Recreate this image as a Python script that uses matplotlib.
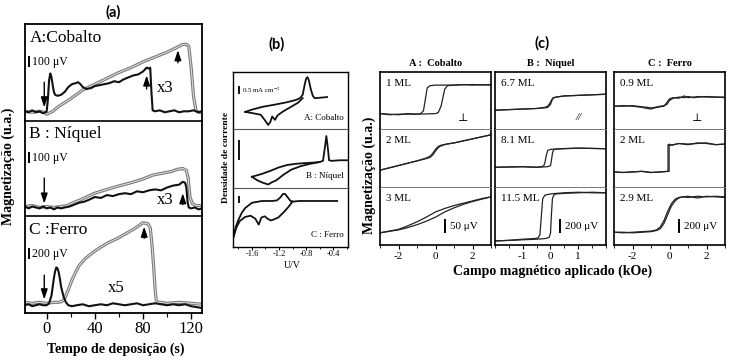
import matplotlib
matplotlib.use("Agg")
import matplotlib.pyplot as plt
from matplotlib.ticker import MultipleLocator

W, H = 731, 361
plt.rcParams['font.family'] = ['Liberation Serif', 'DejaVu Serif']
plt.rcParams['mathtext.fontset'] = 'stix'
plt.rcParams['axes.unicode_minus'] = False

# ---------------- (a) magnetization vs deposition time ----------------
co_gray_t = [-18, -12, -6, -2, 0, 2, 5, 10, 15, 20, 30, 40, 50, 60, 70, 80, 90, 100, 105, 110, 113, 116, 118, 120, 122, 124, 126, 129]
co_gray_y = [0.10, 0.09, 0.10, 0.09, 0.07, 0.08, 0.10, 0.15, 0.19, 0.23, 0.32, 0.38, 0.44, 0.50, 0.55, 0.61, 0.66, 0.71, 0.74, 0.77, 0.79, 0.79, 0.77, 0.55, 0.25, 0.11, 0.09, 0.09]
co_black_t = [-18, -15, -12, -9, -6, -3, -1, 0, 1, 2, 3, 4, 5, 6, 7, 9, 12, 15, 18, 21, 24, 26, 28, 30, 33, 37, 40, 44, 48, 52, 56, 60, 64, 68, 72, 76, 80, 83, 85, 86, 87, 88, 90, 94, 98, 102, 106, 110, 114, 118, 122, 126, 129]
co_black_y = [0.10, 0.09, 0.11, 0.09, 0.10, 0.08, 0.09, 0.10, 0.22, 0.42, 0.49, 0.45, 0.37, 0.30, 0.27, 0.26, 0.27, 0.30, 0.35, 0.38, 0.39, 0.40, 0.38, 0.35, 0.33, 0.34, 0.36, 0.37, 0.38, 0.39, 0.41, 0.40, 0.43, 0.45, 0.47, 0.48, 0.51, 0.55, 0.54, 0.55, 0.30, 0.11, 0.10, 0.11, 0.09, 0.10, 0.11, 0.09, 0.10, 0.10, 0.11, 0.09, 0.10]
co_arrows = [(-2, 0.40, 0.14), (83, 0.33, 0.47), (109, 0.60, 0.73)]

ni_gray_t = [-18, -12, -6, 0, 6, 12, 17, 22, 28, 33, 40, 50, 61, 70, 80, 88, 96, 104, 108, 113, 116, 117.5, 119, 121, 124, 129]
ni_gray_y = [0.10, 0.11, 0.09, 0.10, 0.09, 0.10, 0.11, 0.14, 0.17, 0.20, 0.24, 0.28, 0.32, 0.35, 0.39, 0.43, 0.45, 0.47, 0.49, 0.50, 0.48, 0.40, 0.20, 0.13, 0.11, 0.11]
ni_black_t = [-18, -15, -12, -9, -6, -3, 0, 3, 6, 9, 12, 15, 19, 23, 27, 31, 35, 40, 45, 50, 55, 60, 65, 70, 75, 80, 85, 90, 95, 100, 105, 110, 113, 115, 116, 117, 118, 120, 123, 126, 129]
ni_black_y = [0.10, 0.08, 0.10, 0.09, 0.08, 0.10, 0.08, 0.09, 0.07, 0.09, 0.08, 0.09, 0.10, 0.12, 0.14, 0.15, 0.17, 0.20, 0.19, 0.22, 0.21, 0.23, 0.24, 0.23, 0.26, 0.25, 0.27, 0.28, 0.27, 0.30, 0.32, 0.33, 0.36, 0.35, 0.30, 0.15, 0.09, 0.08, 0.09, 0.07, 0.08]
ni_arrows = [(-2, 0.40, 0.13), (113, 0.12, 0.24)]

fe_gray_t = [-18, -12, -6, 0, 6, 10, 13, 15, 18, 21, 24, 27, 32, 39, 45, 52, 59, 66, 73, 80, 84, 86, 87.5, 89, 90, 91, 92, 95, 100, 110, 120, 129]
fe_gray_y = [0.11, 0.10, 0.11, 0.10, 0.11, 0.11, 0.12, 0.15, 0.24, 0.34, 0.42, 0.49, 0.56, 0.63, 0.68, 0.73, 0.77, 0.82, 0.87, 0.93, 0.92, 0.88, 0.70, 0.45, 0.25, 0.13, 0.11, 0.11, 0.10, 0.11, 0.10, 0.09]
fe_black_t = [-18, -15, -12, -9, -6, -3, 0, 2, 4, 5, 6, 7, 8, 9, 10, 11, 12, 14, 16, 18, 21, 25, 30, 35, 40, 45, 50, 55, 60, 65, 70, 75, 80, 85, 90, 95, 100, 105, 110, 115, 120, 125, 129]
fe_black_y = [0.08, 0.09, 0.07, 0.08, 0.09, 0.08, 0.08, 0.10, 0.18, 0.27, 0.36, 0.43, 0.47, 0.46, 0.42, 0.35, 0.27, 0.17, 0.11, 0.08, 0.07, 0.08, 0.09, 0.07, 0.08, 0.09, 0.08, 0.10, 0.09, 0.08, 0.09, 0.10, 0.08, 0.09, 0.10, 0.09, 0.08, 0.09, 0.08, 0.09, 0.07, 0.06, 0.05]
fe_arrows = [(-2, 0.39, 0.14), (81, 0.77, 0.89)]

a_ticks = [0, 40, 80, 120]

# ---------------- (b) cyclic voltammograms ----------------
cv_co_up_v = [-1.70, -1.60, -1.44, -1.25, -1.08, -0.95, -0.89, -0.85, -0.82, -0.80, -0.78, -0.76, -0.73, -0.70, -0.67, -0.58, -0.49]
cv_co_up_j = [0.30, 0.34, 0.39, 0.43, 0.47, 0.51, 0.54, 0.60, 0.78, 0.88, 0.91, 0.86, 0.70, 0.58, 0.54, 0.55, 0.56]
cv_co_lo_v = [-1.70, -1.60, -1.47, -1.40, -1.36, -1.33, -1.30, -1.26, -1.22, -1.15, -1.05, -0.92, -0.85]
cv_co_lo_j = [0.30, 0.28, 0.25, 0.14, 0.07, 0.12, 0.22, 0.16, 0.24, 0.30, 0.37, 0.46, 0.54]

cv_ni_up_v = [-1.60, -1.45, -1.33, -1.20, -1.08, -0.95, -0.84, -0.70, -0.60, -0.55, -0.52, -0.50, -0.48, -0.46, -0.42, -0.30, -0.18]
cv_ni_up_j = [0.19, 0.24, 0.29, 0.35, 0.39, 0.41, 0.42, 0.43, 0.44, 0.46, 0.70, 0.88, 0.70, 0.47, 0.46, 0.47, 0.47]
cv_ni_lo_v = [-1.60, -1.52, -1.44, -1.36, -1.30, -1.24, -1.14, -1.02, -0.88, -0.74, -0.60]
cv_ni_lo_j = [0.19, 0.13, 0.09, 0.06, 0.10, 0.13, 0.22, 0.31, 0.37, 0.41, 0.44]

cv_fe_up_v = [-1.87, -1.84, -1.80, -1.75, -1.70, -1.60, -1.45, -1.30, -1.23, -1.18, -1.14, -1.11, -1.07, -1.03, -0.99, -0.90, -0.70, -0.50, -0.34]
cv_fe_up_j = [0.18, 0.34, 0.46, 0.58, 0.66, 0.75, 0.78, 0.78, 0.79, 0.84, 0.90, 0.90, 0.84, 0.78, 0.77, 0.78, 0.78, 0.78, 0.78]
cv_fe_lo_v = [-1.87, -1.83, -1.78, -1.70, -1.62, -1.55, -1.50, -1.46, -1.41, -1.37, -1.32, -1.27, -1.21, -1.13, -1.06, -1.00]
cv_fe_lo_j = [0.18, 0.33, 0.44, 0.51, 0.53, 0.48, 0.38, 0.50, 0.52, 0.48, 0.45, 0.47, 0.50, 0.59, 0.68, 0.77]

b_ticks = [-1.6, -1.2, -0.8, -0.4]

# ---------------- (c) hysteresis loops ----------------
co1_dn_h = [3, 2, 1, 0, -0.3, -0.45, -0.55, -0.65, -0.8, -1, -1.5, -2, -2.5, -3]
co1_dn_m = [0.77, 0.78, 0.77, 0.77, 0.76, 0.72, 0.52, 0.32, 0.27, 0.26, 0.27, 0.25, 0.26, 0.27]
co1_up_h = [-3, -2.5, -2, -1, 0, 0.15, 0.3, 0.4, 0.5, 0.65, 1, 1.5, 2, 3]
co1_up_m = [0.27, 0.25, 0.26, 0.26, 0.27, 0.29, 0.40, 0.55, 0.70, 0.76, 0.77, 0.78, 0.77, 0.78]
co2_h = [-3, -2, -1, -0.5, -0.3, -0.15, 0, 0.15, 0.3, 0.6, 1, 2, 3]
co2_up_m = [0.29, 0.37, 0.45, 0.49, 0.51, 0.55, 0.62, 0.68, 0.71, 0.74, 0.76, 0.83, 0.90]
co2_dn_m = [0.29, 0.37, 0.45, 0.50, 0.53, 0.58, 0.65, 0.70, 0.72, 0.74, 0.76, 0.83, 0.90]
co3_h = [-3, -2, -1.5, -1, -0.5, 0, 0.5, 1, 1.5, 2, 2.5, 3]
co3_dn_m = [0.21, 0.27, 0.33, 0.40, 0.48, 0.57, 0.63, 0.68, 0.72, 0.76, 0.80, 0.83]
co3_up_m = [0.21, 0.26, 0.30, 0.35, 0.41, 0.48, 0.57, 0.64, 0.70, 0.75, 0.79, 0.83]

ni1_h = [-2, -1.5, -1, -0.5, -0.2, -0.1, 0, 0.05, 0.1, 0.2, 0.5, 1, 1.5, 2]
ni1_dn_m = [0.33, 0.34, 0.35, 0.36, 0.38, 0.40, 0.47, 0.52, 0.55, 0.56, 0.58, 0.59, 0.60, 0.61]
ni1_up_m = [0.33, 0.34, 0.35, 0.36, 0.37, 0.38, 0.43, 0.50, 0.54, 0.56, 0.58, 0.59, 0.60, 0.61]
ni2_dn_h = [2, 1, 0.5, 0, -0.1, -0.15, -0.2, -0.25, -0.35, -0.5, -1, -2]
ni2_dn_m = [0.66, 0.67, 0.66, 0.65, 0.63, 0.55, 0.42, 0.36, 0.35, 0.34, 0.35, 0.34]
ni2_up_h = [-2, -1, -0.5, -0.1, 0, 0.03, 0.07, 0.1, 0.15, 0.3, 1, 2]
ni2_up_m = [0.34, 0.35, 0.34, 0.35, 0.37, 0.45, 0.58, 0.63, 0.65, 0.66, 0.67, 0.66]
ni3_dn_h = [2, 1.5, 1, 0.5, 0.2, 0, -0.2, -0.28, -0.33, -0.38, -0.45, -0.6, -1, -1.5, -2]
ni3_dn_m = [0.90, 0.90, 0.91, 0.90, 0.89, 0.88, 0.86, 0.80, 0.50, 0.18, 0.12, 0.11, 0.10, 0.08, 0.07]
ni3_up_h = [-2, -1.5, -1, -0.5, -0.2, -0.05, 0, 0.03, 0.07, 0.12, 0.2, 0.5, 1, 1.5, 2]
ni3_up_m = [0.07, 0.08, 0.09, 0.10, 0.11, 0.13, 0.20, 0.50, 0.80, 0.86, 0.88, 0.89, 0.90, 0.91, 0.90]

fe1_h = [-3, -2.5, -2, -1.5, -1.2, -1, -0.8, -0.5, -0.3, -0.15, 0, 0.2, 0.5, 0.8, 1.0, 1.3, 1.6, 2, 2.5, 3]
fe1_dn_m = [0.40, 0.41, 0.40, 0.38, 0.36, 0.35, 0.37, 0.39, 0.40, 0.46, 0.53, 0.55, 0.54, 0.58, 0.55, 0.56, 0.57, 0.56, 0.56, 0.55]
fe1_up_m = [0.40, 0.40, 0.41, 0.39, 0.38, 0.37, 0.38, 0.40, 0.41, 0.43, 0.50, 0.54, 0.56, 0.55, 0.57, 0.55, 0.56, 0.57, 0.56, 0.56]
fe2_dn_h = [3, 2.5, 2, 1.5, 1, 0.5, 0.1, -0.08, -0.08, -0.5, -1, -1.5, -2, -2.5, -3]
fe2_dn_m = [0.74, 0.73, 0.75, 0.76, 0.73, 0.75, 0.72, 0.73, 0.27, 0.26, 0.25, 0.27, 0.26, 0.25, 0.26]
fe2_up_h = [-3, -2.5, -2, -1.5, -1, -0.5, -0.02, -0.02, 0.1, 0.5, 1, 1.5, 2, 2.5, 3]
fe2_up_m = [0.26, 0.25, 0.26, 0.27, 0.25, 0.26, 0.27, 0.74, 0.72, 0.75, 0.74, 0.75, 0.76, 0.73, 0.74]
fe3_h = [-3, -2.5, -2, -1.5, -1, -0.7, -0.5, -0.3, -0.1, 0.1, 0.3, 0.5, 0.7, 1, 1.5, 2, 2.5, 3]
fe3_dn_m = [0.22, 0.21, 0.22, 0.23, 0.24, 0.26, 0.31, 0.42, 0.58, 0.71, 0.79, 0.82, 0.83, 0.84, 0.81, 0.84, 0.83, 0.82]
fe3_up_m = [0.22, 0.22, 0.21, 0.22, 0.23, 0.25, 0.28, 0.37, 0.52, 0.67, 0.76, 0.81, 0.83, 0.82, 0.84, 0.83, 0.84, 0.83]

fig = plt.figure(figsize=(W / 100, H / 100), dpi=100)


def px_axes(x0, y0, x1, y1):
    return fig.add_axes([x0 / W, 1 - y1 / H, (x1 - x0) / W, (y1 - y0) / H])


def stack(x0, x1, rows, xlim, lw=1.2, sep_color='k', sep_lw=1.2):
    axs = []
    for i, (y0, y1) in enumerate(rows):
        ax = px_axes(x0, y0, x1, y1)
        ax.set_xlim(*xlim)
        ax.set_ylim(0, 1)
        ax.set_yticks([])
        for s in ax.spines.values():
            s.set_linewidth(lw)
        if i > 0:
            ax.spines['top'].set_color(sep_color)
            ax.spines['top'].set_linewidth(sep_lw)
        if i < len(rows) - 1:
            ax.spines['bottom'].set_visible(False)
            ax.tick_params(axis='x', which='both', bottom=False, labelbottom=False)
        axs.append(ax)
    return axs


def ftext(x, y, s, **kw):
    fig.text(x / W, 1 - y / H, s, **kw)


def scalebar(ax, x, y0, y1, lw=1.4):
    ax.plot([x, x], [y0, y1], color='k', lw=lw, transform=ax.transAxes, solid_capstyle='butt')


def gray_curve(ax, t, y):
    ax.plot(t, y, color='#7a7a7a', lw=2.3, solid_joinstyle='round')
    ax.plot(t, y, color='#e2e2e2', lw=0.7)


# ---- panel (a)
rows_a = [(24, 121), (121, 216), (216, 313)]
axa = stack(25, 202, rows_a, (-18, 129), lw=1.3)
panels_a = [
    (co_gray_t, co_gray_y, co_black_t, co_black_y, co_arrows, 'A:Cobalto', '100 μV', 'x3', (0.745, 0.34)),
    (ni_gray_t, ni_gray_y, ni_black_t, ni_black_y, ni_arrows, 'B : Níquel', '100 μV', 'x3', (0.745, 0.17)),
    (fe_gray_t, fe_gray_y, fe_black_t, fe_black_y, fe_arrows, 'C :Ferro', '200 μV', 'x5', (0.47, 0.26)),
]
for ax, (gt, gy, bt, by, arrows, name, bar, mult, mpos) in zip(axa, panels_a):
    gray_curve(ax, gt, gy)
    ax.plot(bt, by, color='#111', lw=1.5)
    for t, tail, head in arrows:
        ax.annotate('', xy=(t, head), xytext=(t, tail),
                    arrowprops=dict(arrowstyle='-|>,head_length=0.6,head_width=0.2', color='k',
                                    lw=1.0, shrinkA=0, shrinkB=0, mutation_scale=10))
    ax.text(0.025, 0.86, name, transform=ax.transAxes, fontsize=12.5, va='center')
    scalebar(ax, 0.025, 0.56, 0.67)
    ax.text(0.04, 0.61, bar, transform=ax.transAxes, fontsize=8.5, va='center')
    ax.text(mpos[0], mpos[1], mult, transform=ax.transAxes, fontsize=12, va='center')
axa[-1].set_xticks(a_ticks)
axa[-1].xaxis.set_minor_locator(MultipleLocator(20))
axa[-1].tick_params(axis='x', which='major', labelsize=12, length=4, width=1, pad=2)
axa[-1].tick_params(axis='x', which='minor', length=3, width=0.8)
ftext(113, 12, '(a)', fontsize=10.5, fontweight='bold', family='Lato', ha='center', va='center')
ftext(116, 349, 'Tempo de deposição (s)', fontsize=10, fontweight='bold', ha='center', va='center')
ftext(8, 166, 'Magnetização (u.a.)', fontsize=10, fontweight='bold', ha='center', va='center', rotation=90)

# ---- panel (b)
rows_b = [(72, 129), (129, 188), (188, 247)]
axb = stack(233, 348, rows_b, (-1.88, -0.18), lw=1.0, sep_color='#555', sep_lw=0.8)
cvs = [
    (cv_co_up_v, cv_co_up_j, cv_co_lo_v, cv_co_lo_j, 'A: Cobalto', (0.75, 0.61)),
    (cv_ni_up_v, cv_ni_up_j, cv_ni_lo_v, cv_ni_lo_j, 'B : Níquel', (0.47, 0.81)),
    (cv_fe_up_v, cv_fe_up_j, cv_fe_lo_v, cv_fe_lo_j, 'C : Ferro', (0.75, 0.86)),
]
for ax, (uv, uj, lv, lj, name, bar) in zip(axb, cvs):
    ax.plot(uv, uj, color='#111', lw=1.3)
    ax.plot(lv, lj, color='#111', lw=1.3)
    ax.text(0.965, 0.2, name, transform=ax.transAxes, fontsize=6.5, ha='right', va='center')
    scalebar(ax, 0.05, bar[0], bar[1], lw=1.3)
axb[0].text(0.075, 0.68, '0.5 mA cm$^{-2}$', transform=axb[0].transAxes, fontsize=5, va='center')
axb[-1].set_xticks(b_ticks)
axb[-1].xaxis.set_minor_locator(MultipleLocator(0.2))
axb[-1].tick_params(axis='x', which='major', labelsize=6, length=2, width=0.8, pad=0.5)
axb[-1].tick_params(axis='x', which='minor', length=1.5, width=0.6)
ftext(277, 44, '(b)', fontsize=10.5, fontweight='bold', family='Lato', ha='center', va='center')
ftext(292, 265, 'U/V', fontsize=7, ha='center', va='center')
ftext(226, 157, 'Densidade de corrente', fontsize=6.8, fontweight='bold', ha='center', va='center', rotation=90)

# ---- panel (c)
rows_c = [(72, 129), (129, 187), (187, 245)]
cols_c = [(380, 491, (-3, 3), [-2, 0, 2], 1), (495, 606, (-2, 2), [-1, 0, 1], 0.5), (614, 725, (-3, 3), [-2, 0, 2], 1)]
loops = [
    [(co1_dn_h, co1_dn_m, co1_up_h, co1_up_m, '1 ML'),
     (co2_h, co2_dn_m, co2_h, co2_up_m, '2 ML'),
     (co3_h, co3_dn_m, co3_h, co3_up_m, '3 ML')],
    [(ni1_h, ni1_dn_m, ni1_h, ni1_up_m, '6.7 ML'),
     (ni2_dn_h, ni2_dn_m, ni2_up_h, ni2_up_m, '8.1 ML'),
     (ni3_dn_h, ni3_dn_m, ni3_up_h, ni3_up_m, '11.5 ML')],
    [(fe1_h, fe1_dn_m, fe1_h, fe1_up_m, '0.9 ML'),
     (fe2_dn_h, fe2_dn_m, fe2_up_h, fe2_up_m, '2 ML'),
     (fe3_h, fe3_dn_m, fe3_h, fe3_up_m, '2.9 ML')],
]
col_titles = ['A :  Cobalto', 'B :  Níquel', 'C :  Ferro']
orient = ['⊥', '//', '⊥']
bars_c = ['50 μV', '200 μV', '200 μV']
for (x0, x1, xl, ticks, minor), col, title, ori, bar in zip(cols_c, loops, col_titles, orient, bars_c):
    axs = stack(x0, x1, rows_c, xl, lw=1.2, sep_color='#777', sep_lw=0.7)
    for ax, (h1, m1, h2, m2, lab) in zip(axs, col):
        ax.plot(h1, m1, color='#222', lw=0.9)
        ax.plot(h2, m2, color='#222', lw=0.9)
        ax.text(0.05, 0.8, lab, transform=ax.transAxes, fontsize=8, va='center')
    if ori == '⊥':
        axs[0].text(0.75, 0.2, ori, transform=axs[0].transAxes, fontsize=8, va='center', ha='center',
                    family='DejaVu Serif')
    else:
        axs[0].text(0.75, 0.2, ori, transform=axs[0].transAxes, fontsize=8, va='center', ha='center',
                    style='italic')
    scalebar(axs[2], 0.59, 0.2, 0.45, lw=1.4)
    axs[2].text(0.63, 0.32, bar, transform=axs[2].transAxes, fontsize=8, va='center')
    axs[2].set_xticks(ticks)
    axs[2].xaxis.set_minor_locator(MultipleLocator(minor))
    axs[2].tick_params(axis='x', which='major', labelsize=8, length=3, width=0.8, pad=2)
    axs[2].tick_params(axis='x', which='minor', length=2, width=0.6)
    ftext((x0 + x1) / 2, 63, title, fontsize=7.5, fontweight='bold', ha='center', va='center')
ftext(542, 43, '(c)', fontsize=10.5, fontweight='bold', family='Lato', ha='center', va='center')
ftext(553, 271, 'Campo magnético aplicado (kOe)', fontsize=10, fontweight='bold', ha='center', va='center')
ftext(369, 175, 'Magnetização (u.a.)', fontsize=10, fontweight='bold', ha='center', va='center', rotation=90)

fig.savefig('out.png', dpi=100)
